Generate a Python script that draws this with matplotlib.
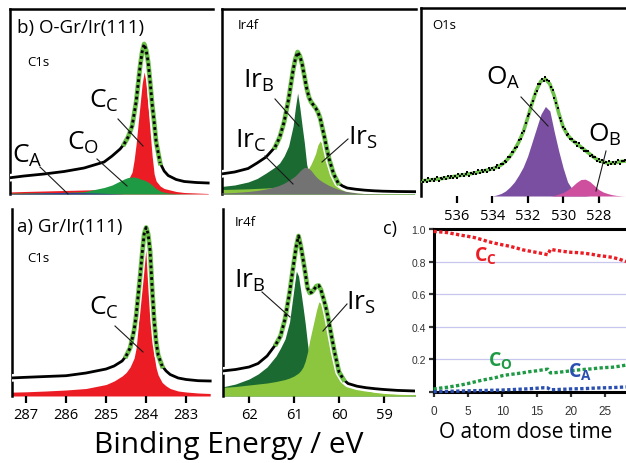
import numpy as np
import matplotlib
matplotlib.use('Agg')
import matplotlib.pyplot as plt
from matplotlib.lines import Line2D

plt.rcParams['font.family'] = ['Open Sans', 'DejaVu Sans']
plt.rcParams['mathtext.fontset'] = 'custom'
plt.rcParams['mathtext.rm'] = 'Open Sans'
plt.rcParams['mathtext.bf'] = 'Open Sans:bold'

# ---------------- data (heights in px above baseline) ----------------
E_C1S = [287.4, 287.0, 286.5, 286.0, 285.5, 285.0, 284.8, 284.6, 284.5, 284.4, 284.3,
         284.25, 284.2, 284.15, 284.1, 284.05, 284.0, 283.95, 283.9, 283.85, 283.8,
         283.75, 283.7, 283.6, 283.5, 283.4, 283.2, 283.0, 282.7, 282.4]

# b) O-Gr/Ir(111), C1s
c1s_b_total = [16, 18, 20, 22.5, 26, 32, 38, 45, 50, 57, 68, 80, 92, 110, 128, 142, 150,
               144, 132, 112, 90, 72, 52, 31, 23, 18.5, 14.5, 12.5, 11.5, 11]
c1s_b_cc = [2, 2.5, 3, 3.5, 4, 4.5, 5.5, 8, 10, 14, 22, 34, 50, 70, 90, 110, 122,
            112, 86, 62, 38, 20, 13, 8, 5.5, 4.5, 2.5, 1.5, 1, 0.5]
c1s_b_co = [0.8, 1, 1.2, 1.6, 2.3, 6.5, 9, 13, 15, 16.5, 17, 17, 16.5, 16, 15, 14.5, 14,
            13, 12, 10.5, 9, 7, 5.5, 3, 1.8, 1, 0.4, 0.2, 0, 0]
c1s_b_ca = [0.3, 0.6, 1.1, 1.6, 1.4, 0.7, 0.4, 0.2, 0, 0, 0, 0, 0, 0, 0, 0, 0,
            0, 0, 0, 0, 0, 0, 0, 0, 0, 0, 0, 0, 0]

# a) Gr/Ir(111), C1s
c1s_a_total = [18, 18.7, 19.5, 20.3, 23, 27, 30, 35, 40, 48, 66, 80, 100, 120, 142, 162,
               168.5, 162, 145, 108, 76, 54, 41, 30, 25, 21.5, 18, 16.5, 15.3, 15]
c1s_a_cc = [3.8, 4.2, 5, 6, 7.5, 11.5, 15, 20, 23.5, 29, 38, 48, 68, 97, 125, 146, 154,
            140, 118, 76, 40, 28, 21, 13.5, 10, 7.5, 5, 4, 3, 2.5]

E_IR4F = [62.6, 62.3, 62.0, 61.8, 61.6, 61.4, 61.3, 61.2, 61.1, 61.0, 60.95, 60.9, 60.85,
          60.8, 60.75, 60.7, 60.65, 60.6, 60.55, 60.5, 60.45, 60.4, 60.35, 60.3, 60.25,
          60.2, 60.1, 60.0, 59.9, 59.8, 59.6, 59.4, 59.2, 59.0, 58.7, 58.3]

# b) Ir4f
ir_b_total = [20, 22, 25.5, 31, 37, 47, 56.5, 72, 95, 124, 135, 142, 138, 130, 118, 106,
              97, 92, 89, 86, 82, 76, 66, 56, 45, 35, 20, 11, 8, 6, 4.7, 3.8, 3.2, 2.8,
              2.5, 2.3]
ir_b_irb = [7.5, 9, 12, 15.5, 21, 27, 31, 38, 48, 68, 86, 101, 86, 68, 51, 30, 20, 14,
            11, 9, 7.5, 6.5, 5.7, 5, 4.5, 4, 3.3, 2.8, 2.4, 2.1, 1.7, 1.4, 1.2, 1, 0.8, 0.6]
ir_b_irs = [4.5, 4.8, 5.2, 5.6, 6, 6.7, 7.2, 7.8, 8.7, 10, 11, 12.2, 13.8, 16, 19, 22.5,
            26, 30, 35, 40.5, 49, 53, 50, 41, 33, 26.5, 16.5, 10, 8, 6, 3.3, 2, 1.3, 0.9,
            0.5, 0.3]
ir_b_irc = [1, 1.5, 2.5, 3.5, 5, 7.3, 8.8, 10.8, 13.5, 16.5, 18.3, 20.5, 23, 25, 26.5,
            26.5, 25.5, 23.5, 20.5, 17.8, 15.5, 13.8, 12.3, 11, 9.7, 8.5, 6.5, 4.8, 3.5,
            2.5, 1.2, 0.6, 0.3, 0.1, 0, 0]

# a) Ir4f
ir_a_total = [25, 26.5, 29, 32.5, 40, 52, 60, 77, 103, 135, 150, 160, 150, 137, 123, 108,
              103, 104, 107, 110, 110.5, 106, 98, 90, 80, 68, 44, 24, 16.5, 12.5, 9.8,
              8.3, 7.3, 6.5, 5.6, 5]
ir_a_irb = [9, 12, 17, 22, 29, 40, 48, 57, 74, 108, 125, 120, 105, 89, 72, 52, 35, 24,
            18, 14, 12, 10, 8.5, 7.5, 6.8, 6, 5, 4, 3.5, 3.2, 2.5, 2.1, 1.8, 1.5, 1.2, 1]
ir_a_irs = [8.5, 9.5, 11, 12, 13, 14.5, 15.5, 16.5, 18, 20, 21.5, 23, 25.5, 29, 35, 44,
            56, 66, 76, 86, 94, 93, 85, 75, 62, 51, 32, 23, 17, 13, 8.5, 5.5, 3.6, 2.6,
            1.8, 1.2]

# b) O1s, fit and components on a 0.25 eV grid, data on a 0.1 eV grid
E_O1S = np.linspace(538.0, 526.5, 47)
o1s_fit = [15, 15.5, 16, 16.5, 17, 17.7, 18.4, 19.2, 20, 20.8, 21.5, 22.2, 23,
           24, 25, 26, 27.2, 28.8, 31, 34.5, 39.5, 46, 54, 64, 78,
           93, 106, 115, 117, 112, 100, 83, 69, 61, 56, 52.5, 49,
           45.5, 42, 38.5, 35.5, 34, 33, 33, 33.5, 34.5, 35]
o1s_oa = [0, 0, 0, 0, 0, 0, 0, 0, 0, 0, 0, 0, 0, 0, 0, 0, 0,
          1, 2.5, 5, 9, 14, 21, 29, 40, 54, 68, 82, 89.5, 85, 64, 45, 28, 14, 7, 3.5,
          1.5, 0.5, 0, 0, 0, 0, 0, 0, 0, 0, 0]
o1s_ob = [0, 0, 0, 0, 0, 0, 0, 0, 0, 0, 0, 0, 0, 0, 0, 0, 0, 0, 0, 0, 0, 0, 0, 0, 0,
          0, 0, 0, 0, 0, 0.5, 2, 3.5, 6, 9.5, 13.5, 16.5, 16.8, 14.5, 10.5, 6.5, 4,
          2.5, 1.3, 0.6, 0.2, 0]
E_O1S_DATA = np.linspace(538.0, 526.5, 116)
o1s_data = [16.5, 14.2, 15.8, 13.6, 18.0, 15.5, 17.0, 14.8, 16.8, 18.6, 14.8, 17.9, 17.3,
            18.9, 16.8, 20.4, 17.9, 20.5, 18.4, 20.1, 18.0, 22.5, 20.1, 21.7, 19.6, 21.7,
            23.6, 19.9, 23.0, 22.4, 24.1, 22.1, 25.8, 23.4, 26.1, 24.0, 25.8, 23.8, 28.4,
            26.2, 28.0, 26.2, 28.7, 31.0, 27.9, 31.6, 32.1, 34.9, 34.2, 39.5, 38.7, 43.6,
            43.7, 48.0, 48.8, 56.2, 57.5, 62.8, 65.2, 72.6, 79.8, 81.8, 90.6, 95.3, 101.9,
            104.7, 111.6, 112.4, 116.9, 115.2, 119.5, 116.5, 115.2, 109.1, 105.6, 98.4,
            93.4, 88.2, 78.0, 75.2, 68.7, 66.9, 61.3, 62.0, 57.2, 57.5, 53.6, 53.6, 49.8,
            52.6, 48.5, 48.4, 44.6, 45.0, 45.2, 39.8, 41.2, 38.9, 39.0, 35.4, 37.5, 34.1,
            35.8, 32.8, 33.8, 31.0, 35.2, 32.5, 33.9, 31.7, 33.7, 35.7, 32.1, 35.3, 34.6,
            36.1]

# c) fractions vs O atom dose time
dose_time = [0, 1, 2, 3, 4, 5, 6, 7, 8, 9, 10, 11, 12, 13, 14, 15, 16, 16.6, 17, 18, 19,
             20, 21, 22, 23, 24, 25, 26, 27, 28]
frac_cc = [0.985, 0.982, 0.978, 0.97, 0.962, 0.955, 0.947, 0.935, 0.922, 0.912, 0.903,
           0.895, 0.884, 0.872, 0.864, 0.856, 0.848, 0.842, 0.875, 0.868, 0.862, 0.857,
           0.855, 0.851, 0.845, 0.837, 0.832, 0.826, 0.815, 0.80]
frac_co = [0.018, 0.024, 0.029, 0.036, 0.043, 0.052, 0.062, 0.072, 0.08, 0.088, 0.1,
           0.107, 0.112, 0.118, 0.125, 0.13, 0.137, 0.14, 0.117, 0.12, 0.125, 0.13, 0.135,
           0.139, 0.142, 0.147, 0.15, 0.152, 0.158, 0.165]
frac_ca = [0.002, 0.003, 0.004, 0.005, 0.006, 0.007, 0.008, 0.009, 0.01, 0.011, 0.012,
           0.014, 0.016, 0.018, 0.02, 0.023, 0.026, 0.025, 0.014, 0.015, 0.017, 0.019,
           0.02, 0.021, 0.023, 0.025, 0.026, 0.027, 0.029, 0.031]

# ---------------- colours ----------------
RED = '#ec1c24'
MID_GREEN = '#1e9a44'
BLUE = '#2e3f99'
DARK_GREEN = '#1b6a31'
LIGHT_GREEN = '#8cc63f'
GRAY = '#737373'
PURPLE = '#7a4fa1'
PINK = '#cf4f9f'
FIT_GREEN = '#6cc04a'
C_BLUE = '#2a4fb0'

W, H = 626, 464
fig = plt.figure(figsize=(W / 100, H / 100), dpi=100)


def px_axes(x0, y0, x1, y1):
    return fig.add_axes([x0 / W, 1 - y1 / H, (x1 - x0) / W, (y1 - y0) / H])


def ftext(x, y, s, **kw):
    fig.text(x / W, 1 - y / H, s, **kw)


def leader(x0, y0, x1, y1):
    fig.add_artist(Line2D([x0 / W, x1 / W], [1 - y0 / H, 1 - y1 / H],
                          color='#1a1a1a', lw=0.8, zorder=20))


def spectrum_axes(ax, top_row):
    ax.set_facecolor('none')
    for s in ax.spines.values():
        s.set_visible(False)
    ax.spines['left'].set_visible(True)
    ax.spines['left'].set_linewidth(1.8)
    if top_row:
        ax.spines['top'].set_visible(True)
        ax.spines['top'].set_linewidth(1.8)
    ax.set_yticks([])
    ax.tick_params(axis='x', direction='out', length=5, width=1.6, labelsize=10.5, pad=3)


def draw_total(ax, e, y, core):
    e = np.asarray(e)
    y = np.asarray(y)
    ax.plot(e, y, color='white', lw=5.5, zorder=5)
    ax.plot(e, y, color='black', lw=2.0, zorder=6)
    m = (e <= core[0]) & (e >= core[1])
    ax.plot(e[m], y[m], color=FIT_GREEN, lw=3.4, zorder=7)
    ax.plot(e[m], y[m], color='black', lw=2.0, ls=(0, (1, 1.1)), zorder=8)


# ---- b) C1s ----
ax = px_axes(10, 10, 213, 195)
spectrum_axes(ax, True)
ax.fill_between(E_C1S, c1s_b_cc, color=RED, lw=0, zorder=1)
ax.fill_between(E_C1S, c1s_b_co, color=MID_GREEN, lw=0, zorder=2)
ax.fill_between(E_C1S, c1s_b_ca, color=BLUE, lw=0, zorder=3)
draw_total(ax, E_C1S, c1s_b_total, (284.5, 283.6))
ax.set_xlim(287.35, 282.28)
ax.set_ylim(0, 185)
ax.set_xticks([])

# ---- b) Ir4f ----
ax = px_axes(222, 10, 416, 195)
spectrum_axes(ax, True)
ax.fill_between(E_IR4F, ir_b_irb, color=DARK_GREEN, lw=0, zorder=1)
ax.fill_between(E_IR4F, ir_b_irs, color=LIGHT_GREEN, lw=0, zorder=2)
ax.fill_between(E_IR4F, ir_b_irc, color=GRAY, lw=0, zorder=3)
draw_total(ax, E_IR4F, ir_b_total, (61.45, 60.0))
ax.set_xlim(62.58, 58.27)
ax.set_ylim(0, 185)
ax.set_xticks([])

# ---- b) O1s ----
ax = px_axes(421, 9, 626, 197)
spectrum_axes(ax, True)
ax.fill_between(E_O1S, o1s_oa, color=PURPLE, lw=0, zorder=1)
ax.fill_between(E_O1S, o1s_ob, color=PINK, lw=0, zorder=2)
ax.plot(E_O1S, o1s_fit, color=FIT_GREEN, lw=2.6, zorder=5)
ax.plot(E_O1S_DATA, o1s_data, ls='none', marker='s', ms=2.0, mfc='black', mec='black',
        mew=0, zorder=6)
ax.set_xlim(538.01, 526.46)
ax.set_ylim(0, 188)
ax.set_xticks([536, 534, 532, 530, 528])
ax.tick_params(axis='x', pad=3.5)

# ---- a) C1s ----
ax = px_axes(12, 210, 213, 397)
spectrum_axes(ax, False)
ax.fill_between(E_C1S, c1s_a_cc, color=RED, lw=0, zorder=1)
draw_total(ax, E_C1S, c1s_a_total, (284.5, 283.6))
ax.set_xlim(287.35, 282.33)
ax.set_ylim(0, 187)
ax.set_xticks([287, 286, 285, 284, 283])

# ---- a) Ir4f ----
ax = px_axes(223, 210, 415, 397)
spectrum_axes(ax, False)
ax.fill_between(E_IR4F, ir_a_irb, color=DARK_GREEN, lw=0, zorder=1)
ax.fill_between(E_IR4F, ir_a_irs, color=LIGHT_GREEN, lw=0, zorder=2)
draw_total(ax, E_IR4F, ir_a_total, (61.5, 59.9))
ax.set_xlim(62.58, 58.31)
ax.set_ylim(0, 187)
ax.set_xticks([62, 61, 60, 59])

# ---- c) fractions ----
ax = px_axes(433.5, 230, 626, 393)
ax.set_facecolor('none')
for side in ['left', 'top', 'bottom']:
    ax.spines[side].set_linewidth(2.2)
ax.spines['right'].set_visible(False)
dots = (0, (1, 0.7))
ax.plot(dose_time, frac_cc, color=RED, lw=2.4, ls=dots, zorder=4, clip_on=False)
ax.plot(dose_time, frac_co, color=MID_GREEN, lw=2.4, ls=dots, zorder=4, clip_on=False)
ax.plot(dose_time, frac_ca, color=C_BLUE, lw=2.4, ls=dots, zorder=4, clip_on=False)
ax.set_xlim(0, 27.98)
ax.set_ylim(0, 1.0)
ax.set_yticks([0, 0.2, 0.4, 0.6, 0.8, 1.0])
ax.set_yticklabels(['', '0.2', '0.4', '0.6', '0.8', '1.0'])
ax.set_xticks([0, 5, 10, 15, 20, 25])
for yv in [0.2, 0.4, 0.6, 0.8]:
    ax.axhline(yv, color='#c6c6ee', lw=0.9, zorder=1)
ax.tick_params(axis='both', direction='out', length=3.5, width=1.6, colors='#333333')
ax.tick_params(axis='y', labelsize=7.5, pad=2)
ax.tick_params(axis='x', labelsize=8.5, pad=6)
for lab in ax.get_xticklabels() + ax.get_yticklabels():
    lab.set_family(['Liberation Sans', 'DejaVu Sans'])

# ---------------- texts ----------------
ftext(17, 33, 'b) O-Gr/Ir(111)', fontsize=13.5, va='baseline')
ftext(17, 232, 'a) Gr/Ir(111)', fontsize=13.5, va='baseline')
ftext(27, 66, 'C1s', fontsize=9.5, va='baseline')
ftext(27, 262, 'C1s', fontsize=9.5, va='baseline')
ftext(238, 29, 'Ir4f', fontsize=9.5, va='baseline')
ftext(235, 226, 'Ir4f', fontsize=9.5, va='baseline')
ftext(432, 29, 'O1s', fontsize=9.5, va='baseline')
ftext(383, 234, 'c)', fontsize=13, va='baseline')

big = dict(fontsize=19, va='baseline', ha='left', zorder=21)
ftext(89, 108, r'$\mathregular{C_C}$', **big)
ftext(67, 150, r'$\mathregular{C_O}$', **big)
ftext(12, 163, r'$\mathregular{C_A}$', **big)
ftext(89, 315, r'$\mathregular{C_C}$', **big)
ftext(243, 88, r'$\mathregular{Ir_B}$', **big)
ftext(235, 148, r'$\mathregular{Ir_C}$', **big)
ftext(348, 145, r'$\mathregular{Ir_S}$', **big)
ftext(234, 288, r'$\mathregular{Ir_B}$', **big)
ftext(346, 310, r'$\mathregular{Ir_S}$', **big)
ftext(486, 85, r'$\mathregular{O_A}$', **big)
ftext(588, 142, r'$\mathregular{O_B}$', **big)

leader(118, 120, 143, 147)
leader(97, 160, 127, 187)
leader(40, 168, 68, 195)
leader(115, 327, 143, 353)
leader(275, 100, 299, 127)
leader(265, 157, 293, 185)
leader(348, 140, 322, 163)
leader(262, 293, 290, 318)
leader(347, 305, 323, 332)
leader(521, 98, 548, 127)
leader(606, 152, 596, 192)

lab_c = dict(fontsize=14, va='baseline', ha='left', zorder=21)
ftext(474, 262, r'$\mathbf{C_C}$', color=RED, **lab_c)
ftext(488, 367, r'$\mathbf{C_O}$', color=MID_GREEN, **lab_c)
ftext(568, 378, r'$\mathbf{C_A}$', color=C_BLUE, **lab_c)

ftext(229, 453, 'Binding Energy / eV', fontsize=21.5, ha='center', va='baseline')
ftext(526, 438, 'O atom dose time', fontsize=15, ha='center', va='baseline')

fig.savefig('out.png', dpi=100)
